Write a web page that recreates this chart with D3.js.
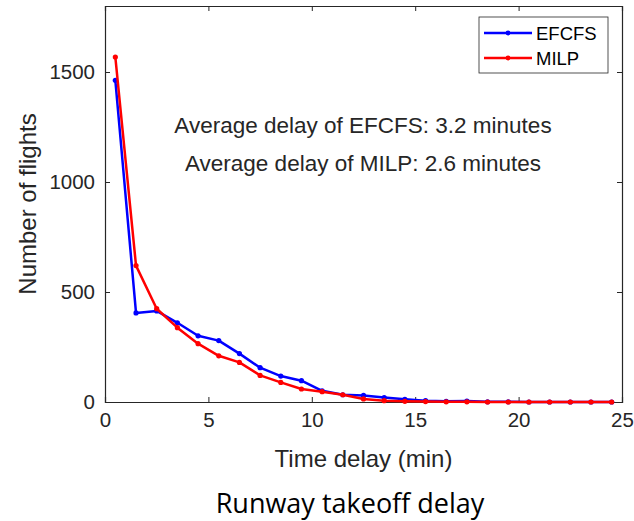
<!DOCTYPE html>
<html>
<head>
<meta charset="utf-8">
<script src="https://cdn.jsdelivr.net/npm/d3@7"></script>
<style>
  body { margin: 0; background: #fff; }
  svg { font-family: "Liberation Sans", Arial, sans-serif; }
</style>
</head>
<body>
<div id="chart"></div>
<script>
// time delay bins (min)
const delays = [0.5, 1.5, 2.5, 3.5, 4.5, 5.5, 6.5, 7.5, 8.5, 9.5, 10.5, 11.5, 12.5,
  13.5, 14.5, 15.5, 16.5, 17.5, 18.5, 19.5, 20.5, 21.5, 22.5, 23.5, 24.5];
const efcfs = [1462, 405, 414, 360, 301, 279, 220, 156, 118, 97, 51, 33, 30,
  20, 12, 6, 3, 4, 1, 1, 0, 0, 0, 0, 0];
const milp = [1568, 620, 424, 338, 265, 210, 180, 121, 89, 59, 47, 33, 14,
  6, 3, 2, 1, 1, 0, 0, 0, 0, 0, 0, 0];
const xTicks = [0, 5, 10, 15, 20, 25];
const yTicks = [0, 500, 1000, 1500];
const seriesNames = ["EFCFS", "MILP"];
const seriesColors = ["#0000ff", "#ff0000"];
const notes = ["Average delay of EFCFS: 3.2 minutes", "Average delay of MILP: 2.6 minutes"];

const W = 634, H = 521;
const margin = { left: 105, right: 12, top: 6, bottom: 119 };
const width = W - margin.left - margin.right,
  height = H - margin.top - margin.bottom;

const svg = d3.select("#chart").append("svg")
  .attr("width", W).attr("height", H);
const g = svg.append("g")
  .attr("transform", "translate(" + margin.left + "," + margin.top + ")");

const x = d3.scaleLinear().domain([0, 25]).range([0, width]);
const y = d3.scaleLinear().domain([0, 1800]).range([height, 0]);

const txt = "#262626";
const fmt = d3.format("d");

// axes (box on, ticks on all four sides, inward)
const axB = g.append("g").attr("transform", "translate(0," + height + ")")
  .call(d3.axisBottom(x).tickValues(xTicks).tickSize(-5).tickPadding(10).tickFormat(fmt));
const axT = g.append("g")
  .call(d3.axisTop(x).tickValues(xTicks).tickSize(-5).tickFormat(""));
const axL = g.append("g")
  .call(d3.axisLeft(y).tickValues(yTicks).tickSize(-5).tickPadding(10).tickFormat(fmt));
const axR = g.append("g").attr("transform", "translate(" + width + ",0)")
  .call(d3.axisRight(y).tickValues(yTicks).tickSize(-5).tickFormat(""));
[axB, axT, axL, axR].forEach(a => {
  a.select(".domain").attr("stroke", txt).attr("stroke-width", 1.2);
  a.selectAll(".tick line").attr("stroke", txt).attr("stroke-width", 1);
  a.selectAll(".tick text").attr("fill", txt)
    .style("font-size", "20.5px").style("font-family", "Liberation Sans, Arial, sans-serif");
});

// lines
const line = d3.line().x((d, i) => x(delays[i])).y(d => y(d));
[efcfs, milp].forEach((s, k) => {
  g.append("path").datum(s)
    .attr("fill", "none").attr("stroke", seriesColors[k])
    .attr("stroke-width", 2.5).attr("stroke-linejoin", "round")
    .attr("d", line);
  g.selectAll(null).data(s).enter().append("circle")
    .attr("cx", (d, i) => x(delays[i])).attr("cy", d => y(d))
    .attr("r", 2.6).attr("fill", seriesColors[k]);
});

// annotations
notes.forEach((t, i) => {
  svg.append("text").attr("x", 363).attr("y", 133 + i * 38)
    .attr("text-anchor", "middle").attr("fill", txt)
    .style("font-size", "22.5px").text(t);
});

// legend
const lg = svg.append("g").attr("transform", "translate(479,17)");
lg.append("rect").attr("width", 129).attr("height", 56)
  .attr("fill", "#fff").attr("stroke", "#262626").attr("stroke-width", 0.8);
seriesNames.forEach((n, i) => {
  const yy = 16 + i * 25;
  lg.append("line").attr("x1", 5).attr("x2", 53).attr("y1", yy).attr("y2", yy)
    .attr("stroke", seriesColors[i]).attr("stroke-width", 2.5);
  lg.append("circle").attr("cx", 29).attr("cy", yy).attr("r", 2.4).attr("fill", seriesColors[i]);
  lg.append("text").attr("x", 57).attr("y", yy + 6.5).attr("fill", "#000")
    .style("font-size", "18.5px").text(n);
});

// axis labels
svg.append("text").attr("transform", "translate(36," + (margin.top + height / 2) + ") rotate(-90)")
  .attr("text-anchor", "middle").attr("fill", txt).style("font-size", "24px")
  .text("Number of flights");
svg.append("text").attr("x", margin.left + width / 2).attr("y", 467)
  .attr("text-anchor", "middle").attr("fill", txt).style("font-size", "24px")
  .text("Time delay (min)");

// title
svg.append("text").attr("x", 350).attr("y", 513)
  .attr("text-anchor", "middle").attr("fill", "#000")
  .style("font-family", "'Open Sans', 'Noto Sans', sans-serif").style("font-size", "27px")
  .text("Runway takeoff delay");
</script>
</body>
</html>
